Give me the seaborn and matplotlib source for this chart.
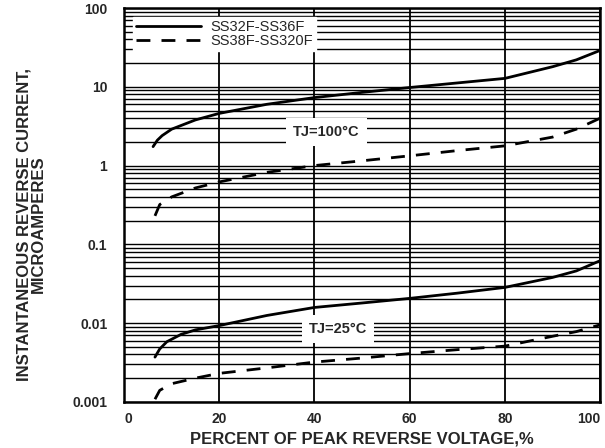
import pandas as pd
import numpy as np
import seaborn as sns
import matplotlib.pyplot as plt
from matplotlib.ticker import LogLocator, FixedLocator

# values (percent of VRRM -> uA)
x_hot_a = [6.1, 7, 8, 10, 15, 20, 30, 40, 50, 60, 70, 80, 90, 95, 100]
ir_hot_a = [1.74, 2.1, 2.4, 2.9, 3.8, 4.6, 6.0, 7.3, 8.5, 9.8, 11.2, 12.8, 18, 22, 29]

x_hot_b = [6.5, 7.5, 10, 15, 20, 30, 40, 50, 60, 70, 80, 90, 95, 100]
ir_hot_b = [0.23, 0.32, 0.40, 0.52, 0.62, 0.82, 1.0, 1.15, 1.33, 1.55, 1.78, 2.3, 2.9, 4.0]

x_cold_a = [6.5, 7.5, 9, 12, 15, 20, 30, 40, 50, 60, 70, 80, 90, 95, 100]
ir_cold_a = [0.0037, 0.0047, 0.0058, 0.0072, 0.0082, 0.0093, 0.0125, 0.0158, 0.018,
             0.0206, 0.024, 0.0284, 0.038, 0.046, 0.062]

x_cold_b = [6.5, 7.5, 10, 15, 20, 30, 40, 50, 60, 70, 80, 90, 95, 100]
ir_cold_b = [0.00108, 0.0014, 0.0017, 0.0020, 0.0023, 0.0027, 0.0032, 0.0036, 0.0041,
             0.0046, 0.0051, 0.0068, 0.0078, 0.0095]

series_names = ["SS32F-SS36F", "SS38F-SS320F"]
x_ticks = [0, 20, 40, 60, 80, 100]
y_ticks = [0.001, 0.01, 0.1, 1, 10, 100]
y_labels = ["0.001", "0.01", "0.1", "1", "10", "100"]

sns.set_style("white")
plt.rcParams['font.family'] = ['Liberation Sans', 'DejaVu Sans']

fig = plt.figure(figsize=(6.05, 4.48), dpi=100)
ax = fig.add_axes([0.205, 0.103, 0.787, 0.879])

# curves
sns.lineplot(x=x_hot_a, y=ir_hot_a, ax=ax, color='black', lw=2, label=series_names[0])
sns.lineplot(x=x_hot_b, y=ir_hot_b, ax=ax, color='black', lw=2, linestyle=(0, (5, 4)), label=series_names[1])
sns.lineplot(x=x_cold_a, y=ir_cold_a, ax=ax, color='black', lw=2)
sns.lineplot(x=x_cold_b, y=ir_cold_b, ax=ax, color='black', lw=2, linestyle=(0, (5, 4)))

ax.set_yscale('log')
ax.set_xlim(0, 100)
ax.set_ylim(0.001, 100)

ax.xaxis.set_major_locator(FixedLocator(x_ticks))
ax.set_yticks(y_ticks)
ax.set_yticklabels(y_labels)
ax.yaxis.set_minor_locator(LogLocator(base=10, subs=np.arange(2, 10)))

ax.grid(True, which='both', axis='y', color='black', lw=1.0)
ax.grid(True, which='major', axis='x', color='black', lw=1.3)
ax.set_axisbelow(True)
ax.tick_params(which='both', length=0)
ax.tick_params(axis='y', labelsize=10, pad=12)
ax.tick_params(axis='x', labelsize=10, pad=7)
for t in ax.get_xticklabels() + ax.get_yticklabels():
    t.set_fontweight('bold')
xl = ax.get_xticklabels()
xl[-1].set_horizontalalignment('right')
xl[0].set_horizontalalignment('left')

for s in ax.spines.values():
    s.set_color('black')
    s.set_linewidth(1.8)

ax.set_xlabel("PERCENT OF PEAK REVERSE VOLTAGE,%", fontsize=12, fontweight='bold', labelpad=4)
ax.set_ylabel("INSTANTANEOUS REVERSE CURRENT,\nMICROAMPERES", fontsize=12, fontweight='bold',
              linespacing=0.95)
ax.yaxis.set_label_coords(-0.165, 0.45)

leg = ax.legend(loc='upper left', frameon=True, fontsize=10.5, handlelength=4.5,
                borderaxespad=0.6, borderpad=0.2, labelspacing=0.05, handletextpad=0.6,
                fancybox=False)
leg.get_frame().set_facecolor('white')
leg.get_frame().set_edgecolor('white')
leg.get_frame().set_alpha(1)

ax.text(42.5, 2.7, "TJ=100\u00b0C", ha='center', va='center', fontsize=10.5, fontweight='bold',
        bbox=dict(facecolor='white', edgecolor='none', pad=5))
ax.text(45, 0.0083, "TJ=25\u00b0C", ha='center', va='center', fontsize=10.5, fontweight='bold',
        bbox=dict(facecolor='white', edgecolor='none', pad=5))

plt.savefig("out.png", dpi=100)
